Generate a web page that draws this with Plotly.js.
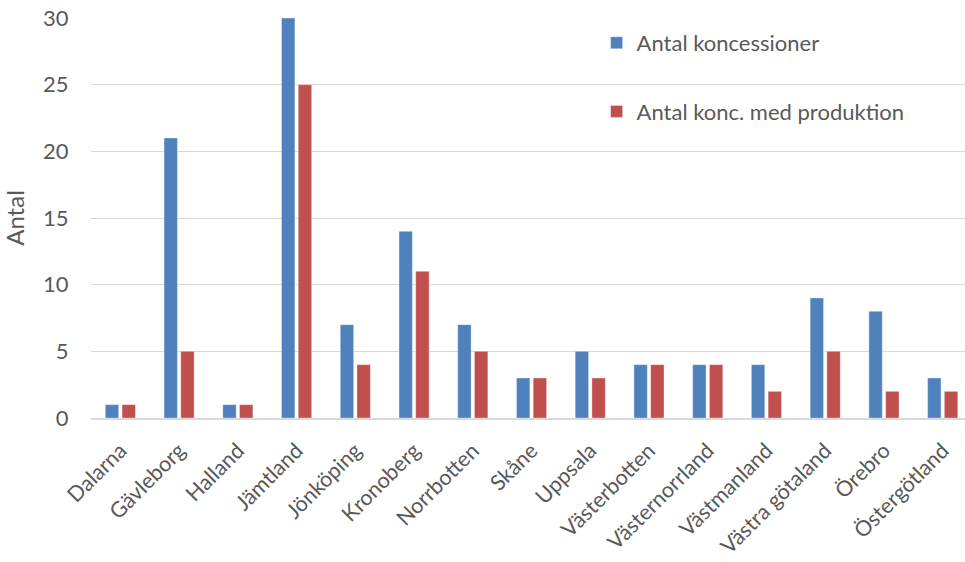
<!DOCTYPE html>
<html>
<head>
<meta charset="utf-8">
<script src="https://cdn.plot.ly/plotly-3.0.1.min.js"></script>
<style>html,body{margin:0;padding:0;background:#fff;}#chart{width:965px;height:562px;}</style>
</head>
<body>
<div id="chart"></div>
<script>
var categories = ["Dalarna","Gävleborg","Halland","Jämtland","Jönköping","Kronoberg","Norrbotten","Skåne","Uppsala","Västerbotten","Västernorrland","Västmanland","Västra götaland","Örebro","Östergötland"];
var koncessioner = [1,21,1,30,7,14,7,3,5,4,4,4,9,8,3];
var medProduktion = [1,5,1,25,4,11,5,3,3,4,4,2,5,2,2];
var seriesNames = ["Antal koncessioner","Antal konc. med produktion"];
var yTicks = [0,5,10,15,20,25,30];

var FONT = "Lato, 'Open Sans', sans-serif";
var data = [
  {type:"bar", x:categories, y:koncessioner, name:seriesNames[0], legendgroup:"a",
   marker:{color:"#4F81BD", line:{color:"rgba(255,255,255,0.35)", width:1}}, hoverinfo:"x+y"},
  {type:"bar", x:categories, y:medProduktion, name:seriesNames[1], legendgroup:"b",
   marker:{color:"#C0504D", line:{color:"rgba(255,255,255,0.35)", width:1}}, hoverinfo:"x+y"}
];
var layout = {
  width:965, height:562,
  margin:{l:91, r:0, t:18, b:144, pad:0},
  paper_bgcolor:"#fff", plot_bgcolor:"#fff",
  barmode:"group", bargap:0.43, bargroupgap:0.2,
  font:{family:FONT, color:"#595959", size:22},
  xaxis:{type:"category", range:[-0.5,14.38], tickangle:-45, showgrid:false,
    showline:true, linecolor:"#d9d9d9", linewidth:1.5, ticks:"outside", ticklen:10, tickcolor:"rgba(0,0,0,0)",
    tickfont:{size:21.5, color:"#595959"}},
  yaxis:{range:[0,30], tickvals:yTicks, showgrid:true, gridcolor:"#d9d9d9", gridwidth:1,
    zeroline:false, showline:false, ticks:"outside", ticklen:17, tickcolor:"rgba(0,0,0,0)",
    tickfont:{size:22, color:"#595959"},
    title:{text:"Antal", font:{size:24, color:"#595959"}, standoff:14}},
  showlegend:true,
  legend:{x:0.5785, y:0.99, xanchor:"left", yanchor:"top", bgcolor:"rgba(0,0,0,0)",
    font:{size:22, color:"#595959"}, tracegroupgap:37, itemwidth:30, orientation:"v"}
};
Plotly.newPlot("chart", data, layout, {displayModeBar:false, staticPlot:true});
</script>
</body>
</html>
